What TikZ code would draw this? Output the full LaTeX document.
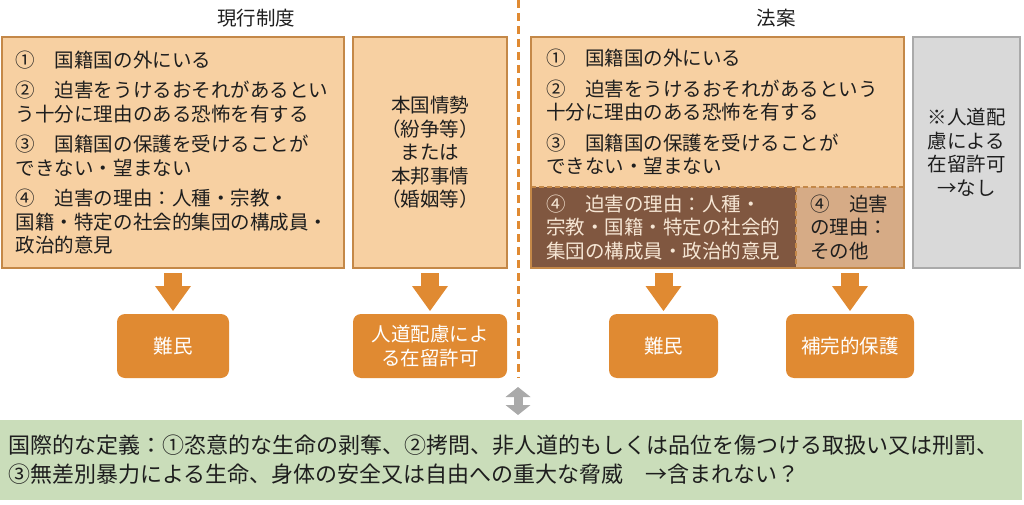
\documentclass[tikz,border=0pt]{standalone}
\usepackage{fontspec}
\setmainfont{Noto Sans CJK JP}
\usepackage{tikz}
\usetikzlibrary{arrows.meta,positioning,calc}
\definecolor{critfill}{RGB}{247,208,162}
\definecolor{critline}{RGB}{196,136,72}
\definecolor{reasondark}{RGB}{128,87,64}
\definecolor{reasontan}{RGB}{214,171,134}
\definecolor{reasontext}{RGB}{246,230,212}
\definecolor{resultfill}{RGB}{224,138,50}
\definecolor{nonefill}{RGB}{217,217,217}
\definecolor{noneline}{RGB}{170,170,170}
\definecolor{intlfill}{RGB}{202,221,186}
\definecolor{inktext}{RGB}{30,30,30}
\tikzset{
  txt/.style={font=\fontsize{19.5}{23.5}\selectfont, text=inktext},
  critbox/.style={txt, draw=critline, line width=2pt, fill=critfill, anchor=north west,
    inner ysep=0pt, outer sep=0pt, align=left},
  subbox/.style={txt, anchor=north west, inner ysep=0pt, outer sep=0pt, align=left},
  nonebox/.style={txt, draw=noneline, line width=2pt, fill=nonefill, anchor=north west,
    outer sep=0pt, align=center},
  resultbox/.style={font=\fontsize{19.5}{24}\selectfont, text=white, fill=resultfill,
    rounded corners=8pt, anchor=north west, outer sep=0pt, align=center},
  downarrow/.style={draw=resultfill, line width=18pt,
    -{Triangle[width=36pt,length=25pt,line width=0pt]}},
  linkarrow/.style={draw=noneline, line width=9pt,
    {Triangle[width=25pt,length=10pt,line width=0pt]}-{Triangle[width=25pt,length=10pt,line width=0pt]}},
  sepline/.style={draw=resultfill, line width=3pt, dash pattern=on 8pt off 5pt},
  subline/.style={draw=critline, line width=2pt, dash pattern=on 5pt off 3pt}
}
\begin{document}
\begin{tikzpicture}[x=1pt,y=-1pt]
\useasboundingbox (0,0) rectangle (1024,505);
\node[txt] (gentitle) at (256,18) {現行制度};
\node[txt] (hoantitle) at (776,18) {法案};
\node[critbox, inner xsep=14pt, text width=314pt, minimum height=231pt] (genbox) at (2,37) {%
①　国籍国の外にいる\\[7pt]
②　迫害をうけるおそれがあるとい\\
う十分に理由のある恐怖を有する\\[7pt]
③　国籍国の保護を受けることが\\
できない・望まない\\[7pt]
④　迫害の理由：人種・宗教・\\
国籍・特定の社会的集団の構成員・\\
政治的意見};
\node[critbox, align=center, minimum width=154pt, minimum height=231pt] (jinbox) at (353,37) {%
本国情勢\\（紛争等）\\または\\本邦事情\\（婚姻等）};
\node[critbox, minimum width=373pt, minimum height=231pt] (hoanbox) at (531,37) {};
\node[subbox, inner xsep=15pt, text width=343pt, minimum height=150pt] (hoantext) at (hoanbox.north west) {%
①　国籍国の外にいる\\[7pt]
②　迫害をうけるおそれがあるという\\
十分に理由のある恐怖を有する\\[7pt]
③　国籍国の保護を受けることが\\
できない・望まない};
\node[subbox, fill=reasondark, text=reasontext, inner xsep=15pt, text width=235pt, minimum height=81pt] (reason) at (hoantext.south west) {%
④　迫害の理由：人種・\\
宗教・国籍・特定の社会的\\
集団の構成員・政治的意見};
\node[subbox, fill=reasontan, inner xsep=14pt, text width=80pt, minimum height=81pt] (reasonother) at (reason.north east) {%
④　迫害\\
の理由：\\
その他};
\draw[subline] (reason.north west) -- (reasonother.north east);
\draw[subline] (reason.north east) -- (reason.south east);
\draw[critline, line width=2pt] (hoanbox.north west) rectangle (hoanbox.south east);
\node[nonebox, minimum width=107pt, minimum height=231pt] (nonebox) at (913,37) {%
※人道配\\慮による\\在留許可\\→なし};
\node[resultbox, minimum width=112pt, minimum height=64pt] (nanmin) at (117,314) {難民};
\node[resultbox, minimum width=154pt, minimum height=64pt] (jindo) at (353,314) {人道配慮によ\\る在留許可};
\node[resultbox, minimum width=109pt, minimum height=64pt] (hoannanmin) at (609,314) {難民};
\node[resultbox, minimum width=128pt, minimum height=64pt] (hokan) at (786,314) {補完的保護};
\draw[downarrow] ([yshift=-5pt]genbox.south) -- ([yshift=3pt]nanmin.north);
\draw[downarrow] ([yshift=-5pt]jinbox.south) -- ([yshift=3pt]jindo.north);
\draw[downarrow] ([yshift=-5pt]reason.south) -- ([yshift=3pt]hoannanmin.north);
\draw[downarrow] ([yshift=-5pt]reasonother.south) -- ([yshift=3pt]hokan.north);
\coordinate (septop) at (518,0);
\coordinate (sepend) at (518,378);
\draw[sepline] (septop) -- (sepend);
\node[fill=intlfill, anchor=north west, minimum width=1022pt, minimum height=80pt, outer sep=0pt] (intl) at (0,420) {};
\node[font=\fontsize{22}{29}\selectfont, text=inktext, anchor=west, align=left, inner sep=0pt] (intltext) at ([xshift=8pt]intl.west) {%
国際的な定義：①恣意的な生命の剥奪、②拷問、非人道的もしくは品位を傷つける取扱い又は刑罰、\\
③無差別暴力による生命、身体の安全又は自由への重大な脅威　→含まれない？};
\draw[linkarrow] ([yshift=-9pt]sepend) -- ([yshift=5pt]intl.north -| sepend);
\end{tikzpicture}
\end{document}
